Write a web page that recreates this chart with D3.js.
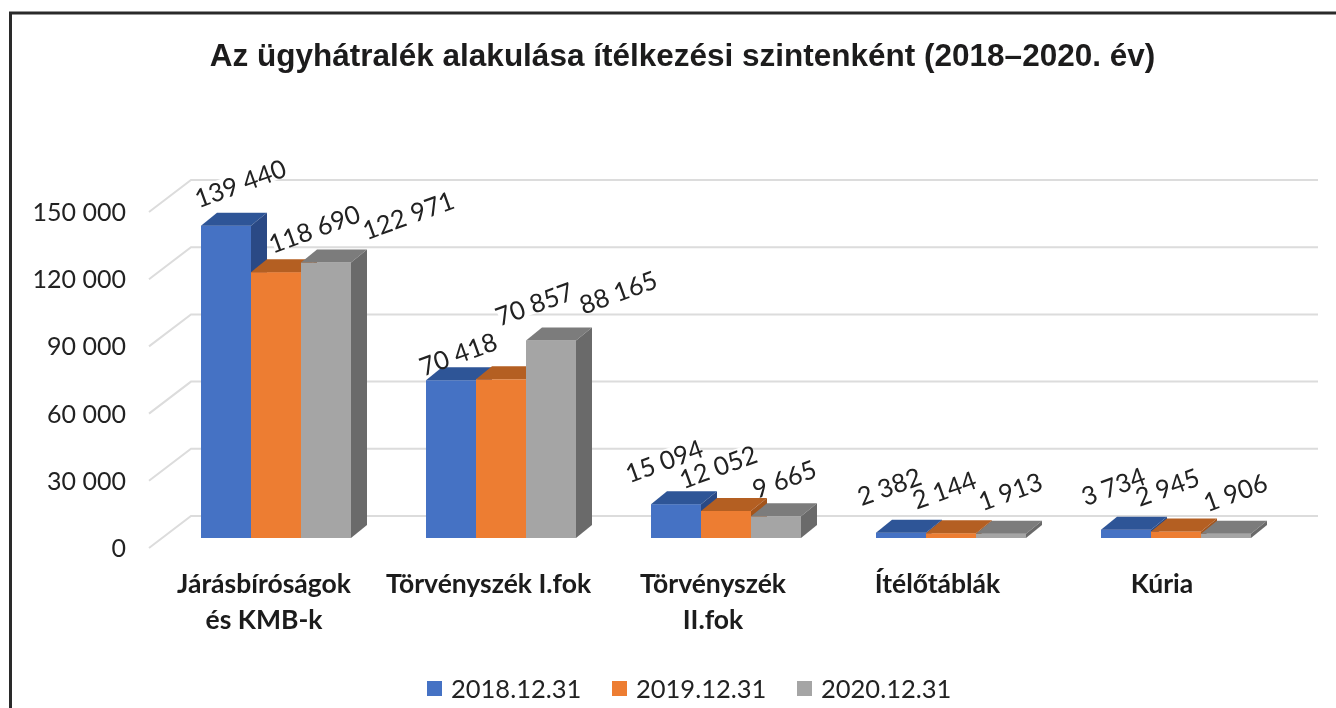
<!DOCTYPE html>
<html><head><meta charset="utf-8">
<script src="https://cdn.jsdelivr.net/npm/d3@7"></script>
<style>html,body{margin:0;padding:0;background:#fff}svg{display:block}</style>
</head><body><svg id="c" width="1336" height="708"></svg>
<script>
const titleText = "Az ügyhátralék alakulása ítélkezési szintenként (2018–2020. év)";
const categories = ["Járásbíróságok és KMB-k","Törvényszék I.fok","Törvényszék II.fok","Ítélőtáblák","Kúria"];
const categoryLines = [["Járásbíróságok","és KMB-k"],["Törvényszék I.fok"],["Törvényszék","II.fok"],["Ítélőtáblák"],["Kúria"]];
const seriesNames = ["2018.12.31","2019.12.31","2020.12.31"];
const v2018 = [139440,70418,15094,2382,3734];
const v2019 = [118690,70857,12052,2144,2945];
const v2020 = [122971,88165,9665,1913,1906];
const yTicks = [0,30000,60000,90000,120000,150000];

const seriesValues = [v2018,v2019,v2020];
const front = ["#4472c4","#ed7d31","#a5a5a5"];
const topC  = ["#2f5597","#b45f22","#7c7c7c"];
const sideC = ["#2a4a85","#a3541d","#6b6b6b"];
const fontBody = "Lato, 'Open Sans', sans-serif";
const fmt = n => d3.format(",")(n).replace(/,/g," ");

const svg = d3.select("#c");
const g = svg.append("g").attr("filter","url(#soft)");
svg.append("defs").append("filter").attr("id","soft").append("feGaussianBlur").attr("stdDeviation",0.45);

// frame
g.append("path").attr("d","M10.5,712V13H1340").attr("fill","none").attr("stroke","#2b2b2b").attr("stroke-width",3);

g.append("text").attr("x",682.5).attr("y",66).attr("text-anchor","middle")
 .attr("font-family","'Liberation Sans',Arial,sans-serif").attr("font-weight",700).attr("font-size",31.5).attr("fill","#1c1a1b").text(titleText);

const y = d3.scaleLinear().domain([0,150000]).range([548,212]);
const x0 = d3.scaleBand().domain(categories).range([163.5,1288.5]);
const x1 = d3.scaleBand().domain(seriesNames).range([37.5,187.5]);

// wall depth and bar depth
const wallDx=42, wallDy=-32, wallRight=1318;
const barDy=-10, depthX=16, depthY=-13;

yTicks.forEach(t=>{
  g.append("path").attr("d",`M149,${y(t)}L${149+wallDx},${y(t)+wallDy}H${wallRight}`)
   .attr("fill","none").attr("stroke","#dcdcdc").attr("stroke-width",2);
  g.append("text").attr("x",126).attr("y",y(t)+9).attr("text-anchor","end")
   .attr("font-family",fontBody).attr("font-size",25).attr("fill","#222").text(fmt(t));
});

// data labels: hand nudges from the bar's top centre, as placed in the source chart
const labelNudge = [
 [[14,-43],[38,-44],[82,-48]],
 [[7,-27],[33,-76],[67,-49]],
 [[-12,-44],[-8,-45],[8,-38]],
 [[-12,-47],[-7,-44],[9,-43]],
 [[-13,-44],[-9,-45],[9,-42]]
];
const labelPos = (ci,si) => {
  const c=categories[ci], s=seriesNames[si], v=seriesValues[si][ci];
  return [x0(c)+x1(s)+x1.bandwidth()/2+labelNudge[ci][si][0], y(v)+barDy+labelNudge[ci][si][1]];
};

// white label boxes interrupt the gridlines, bars sit above them
categories.forEach((c,ci)=>seriesNames.forEach((s,si)=>{
  const [cx,cy]=labelPos(ci,si), w=fmt(seriesValues[si][ci]).length*12.6, h=20;
  g.append("rect").attr("transform",`translate(${cx},${cy}) rotate(-20)`)
   .attr("x",-w/2).attr("y",-h/2).attr("width",w).attr("height",h).attr("fill","#fff");
}));

categories.forEach((c,ci)=>{
  seriesNames.forEach((s,si)=>{
    const v=seriesValues[si][ci];
    const l=x0(c)+x1(s), r=l+x1.bandwidth(), b=y(0)+barDy, t=y(v)+barDy;
    g.append("rect").attr("x",l).attr("y",t).attr("width",r-l).attr("height",b-t).attr("fill",front[si]);
    g.append("path").attr("d",`M${l},${t}l${depthX},${depthY}H${r+depthX}L${r},${t}Z`).attr("fill",topC[si]);
    g.append("path").attr("d",`M${r},${t}l${depthX},${depthY}V${b+depthY}L${r},${b}Z`).attr("fill",sideC[si]);
  });
});

categories.forEach((c,ci)=>seriesNames.forEach((s,si)=>{
  const [cx,cy]=labelPos(ci,si);
  g.append("text").attr("transform",`translate(${cx},${cy}) rotate(-20)`)
   .attr("text-anchor","middle").attr("dominant-baseline","central")
   .attr("font-family",fontBody).attr("font-size",25.5).attr("fill","#222").text(fmt(seriesValues[si][ci]));
}));

categories.forEach((c,ci)=>{
  const cx=x0(c)+x0.bandwidth()/2-12-ci*0.5;
  categoryLines[ci].forEach((ln,li)=>{
    g.append("text").attr("x",cx).attr("y",593+li*36).attr("text-anchor","middle")
     .attr("font-family",fontBody).attr("font-weight",700).attr("font-size",26.5).attr("fill","#1a1a1a").text(ln);
  });
});

const legX = d3.scalePoint().domain(seriesNames).range([427,797]);
seriesNames.forEach((s,i)=>{
  g.append("rect").attr("x",legX(s)).attr("y",681).attr("width",15).attr("height",15).attr("fill",front[i]);
  g.append("text").attr("x",legX(s)+24).attr("y",698).attr("font-family",fontBody).attr("font-size",25.5).attr("fill","#222").text(s);
});
</script></body></html>
